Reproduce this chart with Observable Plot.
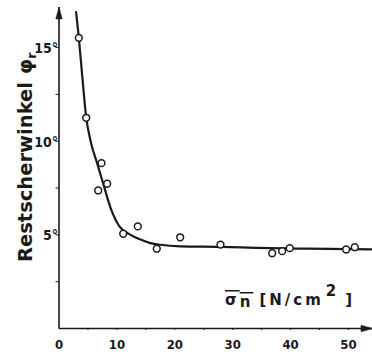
<!DOCTYPE html>
<html>
<head>
<meta charset="utf-8">
<script src="https://cdn.jsdelivr.net/npm/d3@7"></script>
<script src="https://cdn.jsdelivr.net/npm/@observablehq/plot@0.6"></script>
<style>
  html, body { margin: 0; padding: 0; background: #fff; }
  #chart { width: 372px; height: 355px; }
</style>
</head>
<body>
<div id="chart"></div>
<script>
// Tick labels
const xTickValues = [0, 10, 20, 30, 40, 50];
const xMinorTicks = [5, 10, 15, 20, 25, 30, 35, 40, 45, 50];
const yTickValues = [5, 10, 15];
const yMinorTicks = [2.5, 5, 7.5, 10, 12.5, 15];

// Measured points: normal stress σn [N/cm²] vs residual shear angle φr [°]
const pointSigma = [3.42, 4.70, 7.34, 6.77, 8.32, 11.09, 13.61, 16.89, 20.93, 27.89, 36.82, 38.55, 39.86, 49.6, 51.09];
const pointPhi   = [15.52, 11.25, 8.83, 7.37, 7.73, 5.06, 5.45, 4.26, 4.87, 4.48, 4.02, 4.13, 4.29, 4.22, 4.34];

// Fitted curve
const curveSigma = [2.95, 3.42, 4.01, 4.70, 5.50, 6.60, 7.63, 8.89, 10.33, 12.35, 14.08, 15.8, 17.53, 20.98, 27.89, 34.11, 42.75, 54.15];
const curvePhi   = [16.9, 15.54, 13.5, 11.27, 9.95, 8.81, 7.74, 6.46, 5.50, 5.0, 4.75, 4.56, 4.47, 4.39, 4.36, 4.31, 4.26, 4.22];

const xMax = 54.15;
const yMax = 17.14;

const points = pointSigma.map((x, i) => ({x, y: pointPhi[i]}));
const curve = curveSigma.map((x, i) => ({x, y: curvePhi[i]}));

const ink = "#1a1a1a";
const tickFont = "'Liberation Sans Narrow', 'DejaVu Sans Condensed', 'Liberation Sans', sans-serif";

// slim arrowhead symbol pointing up (tip at -2r, base at +r)
const arrowHead = {
  draw(context, size) {
    const s = Math.sqrt(size / Math.PI);
    context.moveTo(0, -2 * s);
    context.lineTo(0.8 * s, s);
    context.lineTo(-0.8 * s, s);
    context.closePath();
  }
};

const plot = Plot.plot({
  width: 372,
  height: 355,
  marginLeft: 58.5,
  marginRight: 0,
  marginTop: 7,
  marginBottom: 27,
  style: {background: "#fff", color: ink, overflow: "visible"},
  x: {type: "linear", domain: [0, xMax], label: null},
  y: {type: "linear", domain: [0, yMax], label: null},
  marks: [
    // minor ticks
    Plot.axisX({ticks: xMinorTicks, tickSize: 2, text: null, stroke: ink, label: null}),
    Plot.axisY({ticks: yMinorTicks, tickSize: 3, text: null, stroke: ink, label: null}),
    // tick labels
    Plot.text(xTickValues, {x: d => d, frameAnchor: "bottom", dy: 20, text: d => String(d),
      fontSize: 13, fontWeight: "bold", fontFamily: tickFont, fill: ink}),
    Plot.text(yTickValues, {y: d => d, frameAnchor: "left", textAnchor: "end", dx: -1, dy: 1, text: d => d + "°",
      fontSize: 14, fontWeight: "bold", fontFamily: tickFont, fill: ink}),
    // axis lines
    Plot.ruleX([0], {stroke: ink, strokeWidth: 1.6}),
    Plot.ruleY([0], {stroke: ink, strokeWidth: 1.6}),
    // arrow heads
    Plot.dot([{x: 0, y: yMax - 0.4}], {x: "x", y: "y", symbol: arrowHead, r: 4, fill: ink, stroke: ink, strokeWidth: 0.5}),
    Plot.dot([{x: xMax - 1.3, y: 0}], {x: "x", y: "y", symbol: arrowHead, r: 4, rotate: 90, fill: ink, stroke: ink, strokeWidth: 0.5}),
    // curve
    Plot.line(curve, {x: "x", y: "y", curve: "monotone-x", stroke: ink, strokeWidth: 2.2}),
    // data points
    Plot.dot(points, {x: "x", y: "y", r: 3.4, fill: "#fff", stroke: ink, strokeWidth: 1.5})
  ]
});

document.getElementById("chart").appendChild(plot);

// Axis titles with rich formatting
const svg = d3.select(plot);

const yl = svg.append("text")
  .attr("transform", "translate(32,262) rotate(-90)")
  .attr("text-anchor", "start")
  .attr("fill", ink)
  .attr("font-family", "'DejaVu Sans', sans-serif")
  .attr("font-weight", "bold")
  .attr("font-size", 19.5);
yl.append("tspan").text("Restscherwinkel");
yl.append("tspan").attr("dx", 8).text("φ");
yl.append("tspan").attr("font-size", 13).attr("dy", 4).text("r");

const xl = svg.append("text")
  .attr("x", 225)
  .attr("y", 305)
  .attr("text-anchor", "start")
  .attr("fill", ink)
  .attr("font-family", "'DejaVu Sans', sans-serif")
  .attr("font-weight", "bold")
  .attr("font-size", 15)
  .attr("letter-spacing", 3);
const ov = xl.append("tspan").style("text-decoration", "overline");
ov.append("tspan").text("σ");
ov.append("tspan").attr("dy", 2).text("n");
xl.append("tspan").attr("dy", -2).attr("dx", 6).text("[N/cm");
xl.append("tspan").attr("dy", -9).attr("dx", 2).text("2");
xl.append("tspan").attr("dy", 9).attr("dx", 6).text("]");
</script>
</body>
</html>
